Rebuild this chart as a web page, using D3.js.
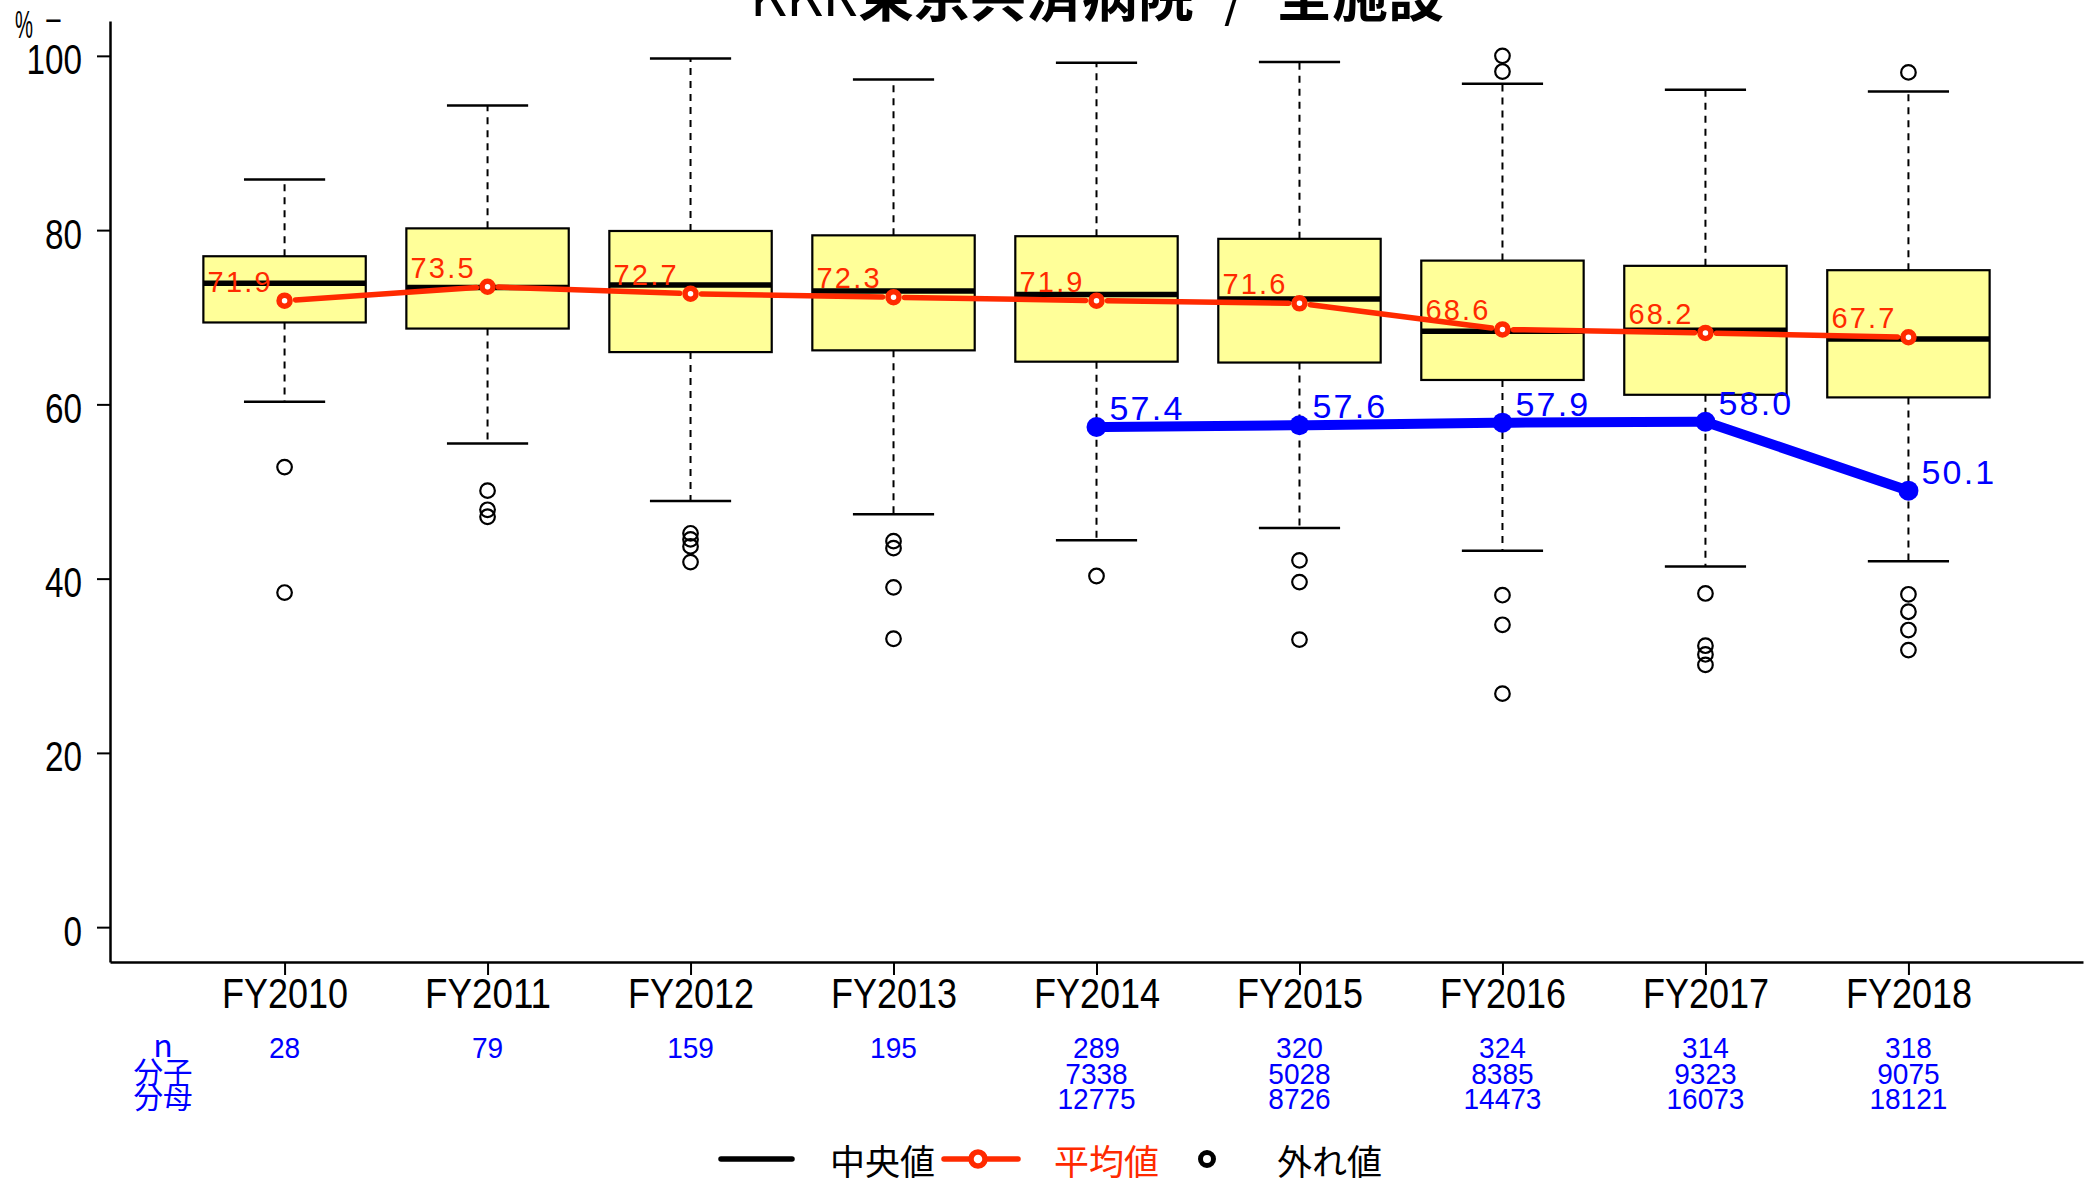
<!DOCTYPE html>
<html lang="ja">
<head>
<meta charset="UTF-8">
<title>KKR東京共済病院 / 全施設</title>
<script src="https://cdn.jsdelivr.net/npm/d3@7"></script>
<style>
body{ margin:0; background:#fff; }
svg text{ font-family:"Liberation Sans", Arial, sans-serif; }
svg .jp{ font-family:"Noto Sans CJK JP", "Liberation Sans", sans-serif; }
</style>
</head>
<body>
<svg id="chart" width="2089" height="1181"></svg>
<script>
// データ
const years = ["FY2010","FY2011","FY2012","FY2013","FY2014","FY2015","FY2016","FY2017","FY2018"];
const whiskerHigh = [85.8, 94.3, 99.7, 97.3, 99.2, 99.3, 96.8, 96.1, 95.9];
const q3 = [77.0, 80.2, 79.9, 79.4, 79.3, 79.0, 76.5, 75.9, 75.4];
const medians = [73.9, 73.4, 73.7, 73.0, 72.6, 72.1, 68.4, 68.5, 67.5];
const q1 = [69.4, 68.7, 66.0, 66.2, 64.9, 64.8, 62.8, 61.1, 60.8];
const whiskerLow = [60.3, 55.5, 48.9, 47.4, 44.4, 45.8, 43.2, 41.4, 42.0];
const outliers = [
  [52.8, 38.4],
  [50.1, 47.9, 47.1],
  [45.2, 44.5, 43.7, 41.9],
  [44.3, 43.5, 39.0, 33.1],
  [40.3],
  [42.1, 39.6, 33.0],
  [100.0, 98.2, 38.1, 34.7, 26.8],
  [38.3, 32.3, 31.3, 30.1],
  [98.1, 38.2, 36.2, 34.1, 31.8]
];
const means = [71.9, 73.5, 72.7, 72.3, 71.9, 71.6, 68.6, 68.2, 67.7];
const hospital = [null, null, null, null, 57.4, 57.6, 57.9, 58.0, 50.1];
const nCounts = [28, 79, 159, 195, 289, 320, 324, 314, 318];
const numerators = [null, null, null, null, 7338, 5028, 8385, 9323, 9075];
const denominators = [null, null, null, null, 12775, 8726, 14473, 16073, 18121];
const yTicks = [0, 20, 40, 60, 80, 100];
const rowLabels = ["n", "分子", "分母"];

const RED = "#ff2a00", BLUE = "#0000ff", BOXFILL = "#ffff99";

var svg = d3.select("#chart");

var x = d3.scalePoint().domain(years).range([110, 2083]).padding(0.86),
    y = d3.scaleLinear().domain([-4, 104]).range([962, 21]),
    bw = x.step() * 0.8,
    f1 = d3.format(".1f");

// 文字幅をそろえる
function squeeze(sel, perChar, mode){
  sel.attr("textLength", function(){ return this.textContent.length * perChar; })
     .attr("lengthAdjust", mode || "spacingAndGlyphs");
}

// y軸
var yAxis = svg.append("g")
  .attr("transform", "translate(110,0)")
  .call(d3.axisLeft(y).tickValues(yTicks).tickSize(13).tickSizeOuter(0).tickPadding(15));
yAxis.select(".domain").attr("stroke-width", 2.5);
yAxis.selectAll(".tick line").attr("stroke-width", 2);
yAxis.selectAll(".tick text")
  .attr("font-size", 42).attr("font-family", "Liberation Sans, Arial, sans-serif")
  .attr("fill", "#000").attr("dy", "0.43em")
  .call(squeeze, 18.5);

// x軸
var xAxis = svg.append("g")
  .attr("transform", "translate(0,962)")
  .call(d3.axisBottom(x).tickSize(13).tickSizeOuter(0).tickPadding(3));
xAxis.select(".domain").attr("stroke-width", 2.5);
xAxis.selectAll(".tick line").attr("stroke-width", 2);
xAxis.selectAll(".tick text")
  .attr("font-size", 42).attr("font-family", "Liberation Sans, Arial, sans-serif")
  .attr("fill", "#000")
  .call(squeeze, 21);

// 箱ひげ
var rows = years.map(function(yr, i){
  return {yr: yr, hi: whiskerHigh[i], q3: q3[i], med: medians[i], q1: q1[i],
          lo: whiskerLow[i], out: outliers[i], mean: means[i], rate: hospital[i]};
});

var box = svg.selectAll("g.box").data(rows).join("g")
  .attr("class", "box")
  .attr("transform", function(d){ return "translate(" + x(d.yr) + ",0)"; });

box.append("line").attr("x1", 0).attr("x2", 0)
  .attr("y1", function(d){ return y(d.q3); }).attr("y2", function(d){ return y(d.hi); })
  .attr("stroke", "#000").attr("stroke-width", 2).attr("stroke-dasharray", "7,6");
box.append("line").attr("x1", 0).attr("x2", 0)
  .attr("y1", function(d){ return y(d.q1); }).attr("y2", function(d){ return y(d.lo); })
  .attr("stroke", "#000").attr("stroke-width", 2).attr("stroke-dasharray", "7,6");
box.append("line").attr("x1", -bw/4).attr("x2", bw/4)
  .attr("y1", function(d){ return y(d.hi); }).attr("y2", function(d){ return y(d.hi); })
  .attr("stroke", "#000").attr("stroke-width", 2.5);
box.append("line").attr("x1", -bw/4).attr("x2", bw/4)
  .attr("y1", function(d){ return y(d.lo); }).attr("y2", function(d){ return y(d.lo); })
  .attr("stroke", "#000").attr("stroke-width", 2.5);
box.append("rect")
  .attr("x", -bw/2).attr("width", bw)
  .attr("y", function(d){ return y(d.q3); })
  .attr("height", function(d){ return y(d.q1) - y(d.q3); })
  .attr("fill", BOXFILL).attr("stroke", "#000").attr("stroke-width", 2.2);
box.append("line").attr("x1", -bw/2).attr("x2", bw/2)
  .attr("y1", function(d){ return y(d.med); }).attr("y2", function(d){ return y(d.med); })
  .attr("stroke", "#000").attr("stroke-width", 5.5);
box.selectAll("circle.out").data(function(d){ return d.out; }).join("circle")
  .attr("class", "out")
  .attr("cx", 0).attr("cy", function(v){ return y(v); }).attr("r", 7.3)
  .attr("fill", "none").attr("stroke", "#000").attr("stroke-width", 2.2);

// type="b" の線 (点の周りにすき間)
function gapLines(g, pts, gap, color, width){
  for (var i = 0; i < pts.length - 1; i++){
    var a = pts[i], b = pts[i+1];
    var dx = b[0] - a[0], dy = b[1] - a[1], L = Math.sqrt(dx*dx + dy*dy);
    g.append("line")
      .attr("x1", a[0] + dx/L*gap).attr("y1", a[1] + dy/L*gap)
      .attr("x2", b[0] - dx/L*gap).attr("y2", b[1] - dy/L*gap)
      .attr("stroke", color).attr("stroke-width", width).attr("stroke-linecap", "round");
  }
}

// 平均値
var meanG = svg.append("g");
gapLines(meanG, rows.map(function(d){ return [x(d.yr), y(d.mean)]; }), 11, RED, 5.5);
meanG.selectAll("circle").data(rows).join("circle")
  .attr("cx", function(d){ return x(d.yr); }).attr("cy", function(d){ return y(d.mean); })
  .attr("r", 5.5).attr("fill", "#fff").attr("stroke", RED).attr("stroke-width", 5.5);
meanG.selectAll("text").data(rows).join("text")
  .attr("x", function(d){ return x(d.yr) - 77; })
  .attr("y", function(d){ return y(d.mean) - 9; })
  .attr("font-size", 29).attr("fill", RED)
  .text(function(d){ return f1(d.mean); })
  .call(squeeze, 15.75, "spacing");

// 当院
var hosp = rows.filter(function(d){ return d.rate != null; });
var hospG = svg.append("g");
gapLines(hospG, hosp.map(function(d){ return [x(d.yr), y(d.rate)]; }), 9, BLUE, 10);
hospG.selectAll("circle").data(hosp).join("circle")
  .attr("cx", function(d){ return x(d.yr); }).attr("cy", function(d){ return y(d.rate); })
  .attr("r", 10).attr("fill", BLUE);
hospG.selectAll("text").data(hosp).join("text")
  .attr("x", function(d){ return x(d.yr) + 13; })
  .attr("y", function(d){ return y(d.rate) - 7; })
  .attr("font-size", 34).attr("fill", BLUE)
  .text(function(d){ return f1(d.rate); })
  .call(squeeze, 18.2, "spacing");

// 下の表
var tableRows = [nCounts, numerators, denominators];
var rowY = [1058, 1083.5, 1109];
tableRows.forEach(function(vals, r){
  svg.append("g").selectAll("text")
    .data(years.map(function(yr, i){ return {yr: yr, v: vals[i]}; }).filter(function(d){ return d.v != null; }))
    .join("text")
    .attr("x", function(d){ return x(d.yr); }).attr("y", rowY[r])
    .attr("text-anchor", "middle").attr("font-size", 30).attr("fill", BLUE)
    .text(function(d){ return d.v; })
    .call(squeeze, 15.6);
  svg.append("text").attr("class", "jp")
    .attr("x", 163).attr("y", rowY[r] - 1)
    .attr("text-anchor", "middle").attr("font-size", r == 0 ? 32 : 29.5).attr("fill", BLUE)
    .text(rowLabels[r]);
});

// タイトル
var title = svg.append("text").attr("class", "jp")
  .attr("x", 1097).attr("y", 16).attr("text-anchor", "middle").attr("font-size", 56);
title.append("tspan").attr("font-weight", "normal").text("KKR");
title.append("tspan").attr("font-weight", "bold").text("東京共済病院");
title.append("tspan").attr("dx", 30).attr("font-weight", "normal").text("/");
title.append("tspan").attr("dx", 30).attr("font-weight", "bold").text("全施設");

// 単位
svg.append("text").attr("x", 15).attr("y", 38).attr("font-size", 38).attr("fill", "#000")
  .text("%").call(squeeze, 18);
svg.append("text").attr("x", 45).attr("y", 32).attr("font-size", 34).attr("fill", "#000")
  .text("−").call(squeeze, 17);

// 凡例
var leg = svg.append("g");
leg.append("line").attr("x1", 721).attr("x2", 792).attr("y1", 1159).attr("y2", 1159)
  .attr("stroke", "#000").attr("stroke-width", 5.5).attr("stroke-linecap", "round");
leg.append("text").attr("class", "jp").attr("x", 830).attr("y", 1175).attr("font-size", 35)
  .attr("fill", "#000").text("中央値");
leg.append("line").attr("x1", 944).attr("x2", 1018).attr("y1", 1159).attr("y2", 1159)
  .attr("stroke", RED).attr("stroke-width", 5.5).attr("stroke-linecap", "round");
leg.append("circle").attr("cx", 978).attr("cy", 1159).attr("r", 7)
  .attr("fill", "#fff").attr("stroke", RED).attr("stroke-width", 5.5);
leg.append("text").attr("class", "jp").attr("x", 1054).attr("y", 1175).attr("font-size", 35)
  .attr("fill", RED).text("平均値");
leg.append("circle").attr("cx", 1207).attr("cy", 1159).attr("r", 6.5)
  .attr("fill", "none").attr("stroke", "#000").attr("stroke-width", 5);
leg.append("text").attr("class", "jp").attr("x", 1277).attr("y", 1175).attr("font-size", 35)
  .attr("fill", "#000").text("外れ値");
</script>
</body>
</html>
